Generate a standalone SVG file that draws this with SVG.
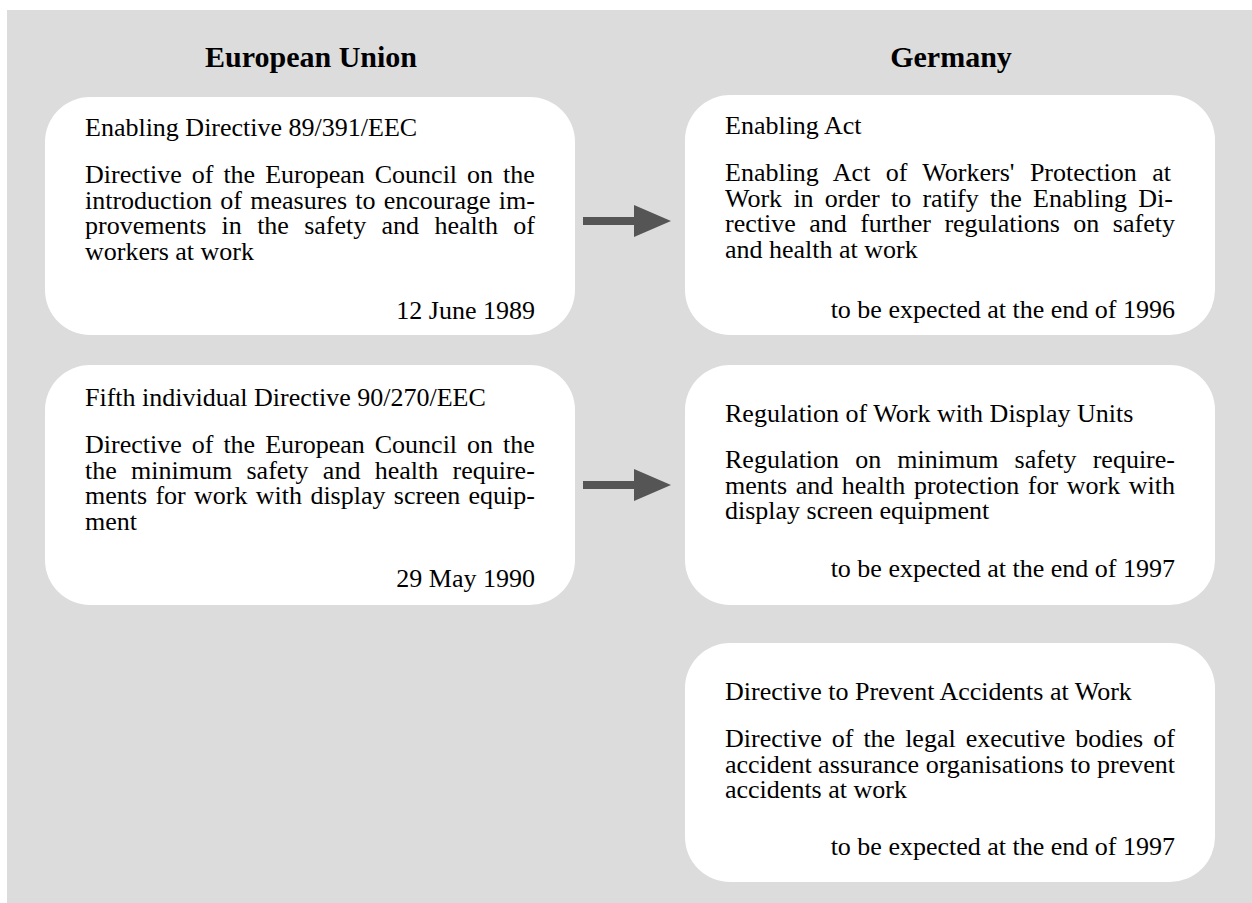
<svg xmlns="http://www.w3.org/2000/svg" width="1252" height="903" viewBox="0 0 1252 903">
<style>
.bg{fill:#dcdcdc}
.box{fill:#ffffff}
.h{font-family:"Liberation Serif","Times New Roman",serif;font-weight:bold;font-size:30px;fill:#000;text-anchor:middle}
.t{font-family:"Liberation Serif","Times New Roman",serif;font-size:26px;fill:#000}
.r{text-anchor:end}
.arrow{fill:#555555}
</style>
<rect class="bg" x="7" y="10" width="1245" height="893"/>
<g id="headings">
<text class="h" x="311" y="67">European Union</text>
<text class="h" x="951" y="67">Germany</text>
</g>
<g id="eu-enabling-directive">
<rect class="box" x="45" y="97" width="530" height="238" rx="45" ry="45"/>
<text class="t" x="85" y="136">Enabling Directive 89/391/EEC</text>
<text class="t" x="85" y="183" word-spacing="3.5">Directive of the European Council on the</text>
<text class="t" x="85" y="208.5" word-spacing="1.76">introduction of measures to encourage im-</text>
<text class="t" x="85" y="234" word-spacing="8.8">provements in the safety and health of</text>
<text class="t" x="85" y="259.5">workers at work</text>
<text class="t r" x="535" y="319">12 June 1989</text>
</g>
<g id="eu-fifth-directive">
<rect class="box" x="45" y="365" width="530" height="240" rx="45" ry="45"/>
<text class="t" x="85" y="406">Fifth individual Directive 90/270/EEC</text>
<text class="t" x="85" y="453" word-spacing="3.5">Directive of the European Council on the</text>
<text class="t" x="85" y="478.5" word-spacing="7.8">the minimum safety and health require-</text>
<text class="t" x="85" y="504" word-spacing="1.83">ments for work with display screen equip-</text>
<text class="t" x="85" y="529.5">ment</text>
<text class="t r" x="535" y="587">29 May 1990</text>
</g>
<g id="de-enabling-act">
<rect class="box" x="685" y="95" width="530" height="240" rx="45" ry="45"/>
<text class="t" x="725" y="134">Enabling Act</text>
<text class="t" x="725" y="181" word-spacing="8.9">Enabling Act of Workers' Protection at</text>
<text class="t" x="725" y="206.5" word-spacing="4.76">Work in order to ratify the Enabling Di-</text>
<text class="t" x="725" y="232" word-spacing="6.96">rective and further regulations on safety</text>
<text class="t" x="725" y="257.5">and health at work</text>
<text class="t r" x="1175" y="318">to be expected at the end of 1996</text>
</g>
<g id="de-display-regulation">
<rect class="box" x="685" y="365" width="530" height="240" rx="45" ry="45"/>
<text class="t" x="725" y="422">Regulation of Work with Display Units</text>
<text class="t" x="725" y="468" word-spacing="9.6">Regulation on minimum safety require-</text>
<text class="t" x="725" y="493.5" word-spacing="2.07">ments and health protection for work with</text>
<text class="t" x="725" y="519">display screen equipment</text>
<text class="t r" x="1175" y="577">to be expected at the end of 1997</text>
</g>
<g id="de-accident-directive">
<rect class="box" x="685" y="643" width="530" height="239" rx="45" ry="45"/>
<text class="t" x="725" y="700">Directive to Prevent Accidents at Work</text>
<text class="t" x="725" y="747" word-spacing="3.5">Directive of the legal executive bodies of</text>
<text class="t" x="725" y="772.5">accident assurance organisations to prevent</text>
<text class="t" x="725" y="798">accidents at work</text>
<text class="t r" x="1175" y="855">to be expected at the end of 1997</text>
</g>
<g id="connectors">
<path class="arrow" d="M583 217 H634 V205 L671 221 L634 237 V225 H583 Z"/>
<path class="arrow" d="M583 481 H634 V469 L671 485 L634 501 V489 H583 Z"/>
</g>
</svg>
